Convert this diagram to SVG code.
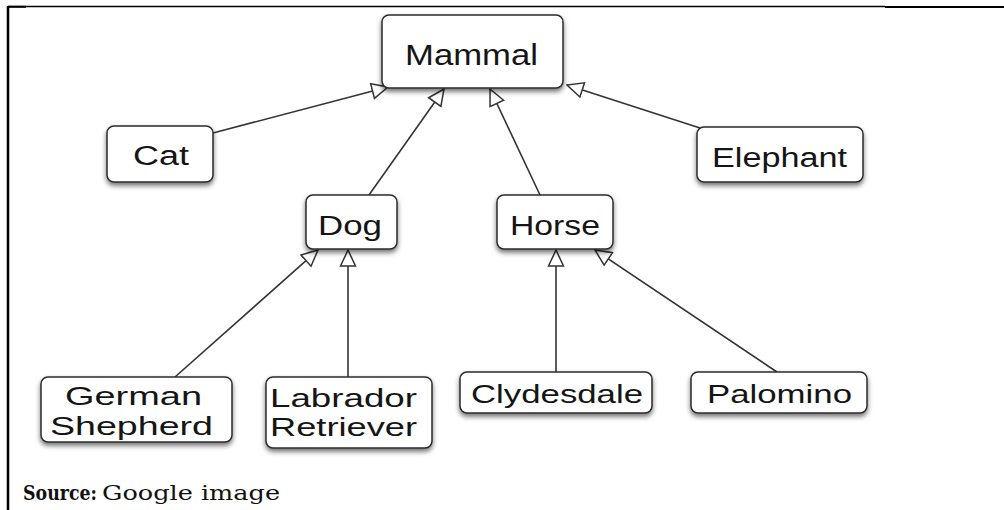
<svg xmlns="http://www.w3.org/2000/svg" width="1004" height="510" viewBox="0 0 1004 510">
<style>
.box{fill:#fff;stroke:#2b2b2b;stroke-width:1.5;filter:url(#sh)}
.lbl{font-family:"Liberation Sans",Arial,sans-serif;font-size:27px;fill:#151515;text-anchor:start}
.edge{stroke:#333;stroke-width:1.6;fill:none;marker-end:url(#tri)}
.frame{stroke:#000;fill:none}
.src{font-family:"DejaVu Serif","Liberation Serif",serif;font-size:20px;fill:#111}
</style>
<defs>
<filter id="sh" x="-20%" y="-20%" width="140%" height="160%">
<feDropShadow dx="0" dy="3" stdDeviation="2.5" flood-color="#000" flood-opacity="0.55"/>
</filter>
<marker id="tri" viewBox="0 0 18 18" refX="17" refY="9" markerWidth="18" markerHeight="18" markerUnits="userSpaceOnUse" orient="auto">
<path d="M1,1.5 L17,9 L1,16.5 Z" fill="#fff" stroke="#333" stroke-width="1.5" stroke-linejoin="miter"/>
</marker>
</defs>
<rect width="1004" height="510" fill="#fff"/>
<g id="frame">
<line class="frame" x1="8" y1="6.5" x2="885" y2="6.5" stroke-width="1.4"/>
<line class="frame" x1="8" y1="6.8" x2="26" y2="6.8" stroke-width="2"/>
<line class="frame" x1="885" y1="7" x2="1004" y2="7" stroke-width="2"/>
<line class="frame" x1="8" y1="6" x2="8" y2="510" stroke-width="2.5"/>
</g>
<g id="connectors">
<line class="edge" x1="213" y1="133" x2="388" y2="87"/>
<line class="edge" x1="369" y1="195" x2="444" y2="89"/>
<line class="edge" x1="540" y1="195" x2="490" y2="89"/>
<line class="edge" x1="700" y1="128" x2="567" y2="85"/>
<line class="edge" x1="175" y1="377" x2="318" y2="250"/>
<line class="edge" x1="348" y1="377" x2="348" y2="250"/>
<line class="edge" x1="556" y1="372" x2="556" y2="250"/>
<line class="edge" x1="777" y1="372" x2="595" y2="250"/>
</g>
<g id="mammal">
<rect class="box" x="382" y="15" width="181" height="73" rx="7"/>
<text class="lbl" x="405" y="65" textLength="133" lengthAdjust="spacingAndGlyphs" style="font-size:30px">Mammal</text>
</g>
<g id="cat">
<rect class="box" x="107" y="126" width="106" height="56" rx="7"/>
<text class="lbl" x="133" y="165" textLength="56" lengthAdjust="spacingAndGlyphs">Cat</text>
</g>
<g id="elephant">
<rect class="box" x="697" y="127" width="166" height="55" rx="7"/>
<text class="lbl" x="712" y="167" textLength="135" lengthAdjust="spacingAndGlyphs">Elephant</text>
</g>
<g id="dog">
<rect class="box" x="306" y="195" width="91" height="54" rx="7"/>
<text class="lbl" x="318" y="235" textLength="64" lengthAdjust="spacingAndGlyphs" style="font-size:28px">Dog</text>
</g>
<g id="horse">
<rect class="box" x="497" y="195" width="116" height="54" rx="7"/>
<text class="lbl" x="510" y="235" textLength="90" lengthAdjust="spacingAndGlyphs" style="font-size:28px">Horse</text>
</g>
<g id="german-shepherd">
<rect class="box" x="41" y="377" width="191" height="65" rx="7"/>
<text class="lbl" x="65" y="405" textLength="137" lengthAdjust="spacingAndGlyphs" style="font-size:25px">German</text>
<text class="lbl" x="50" y="435" textLength="163" lengthAdjust="spacingAndGlyphs" style="font-size:25px">Shepherd</text>
</g>
<g id="labrador-retriever">
<rect class="box" x="266" y="377" width="166" height="71" rx="7"/>
<text class="lbl" x="270" y="407" textLength="147" lengthAdjust="spacingAndGlyphs" style="font-size:25px">Labrador</text>
<text class="lbl" x="270" y="436" textLength="147" lengthAdjust="spacingAndGlyphs" style="font-size:25px">Retriever</text>
</g>
<g id="clydesdale">
<rect class="box" x="460" y="372" width="192" height="41" rx="7"/>
<text class="lbl" x="471" y="403" textLength="172" lengthAdjust="spacingAndGlyphs" style="font-size:26px">Clydesdale</text>
</g>
<g id="palomino">
<rect class="box" x="691" y="372" width="176" height="41" rx="7"/>
<text class="lbl" x="707" y="403" textLength="145" lengthAdjust="spacingAndGlyphs" style="font-size:26px">Palomino</text>
</g>
<g id="source">
<text class="src" x="23" y="500" font-weight="bold" textLength="74" lengthAdjust="spacingAndGlyphs">Source:</text>
<text class="src" x="102" y="500" textLength="178" lengthAdjust="spacingAndGlyphs">Google image</text>
</g>
</svg>
